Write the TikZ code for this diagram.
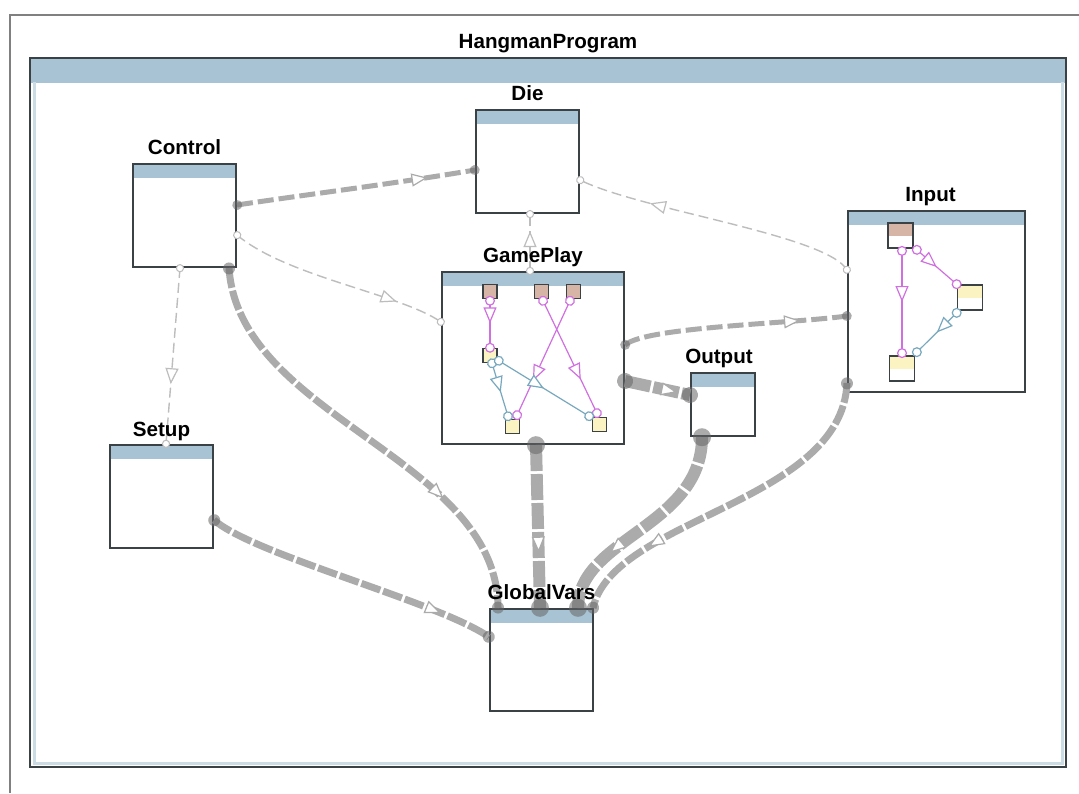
\documentclass[tikz,border=0pt]{standalone}
\usepackage{fontspec}
\setmainfont{Liberation Sans}
\usepackage{xcolor}
\usetikzlibrary{arrows.meta, decorations.markings}

\definecolor{hdrblue}{HTML}{A8C4D4}
\definecolor{boxline}{HTML}{3A4246}
\definecolor{wire}{HTML}{ABABAB}
\definecolor{thinwire}{HTML}{BDBDBD}
\definecolor{portbrown}{HTML}{D6B4A6}
\definecolor{portyellow}{HTML}{FBF3C2}
\definecolor{flowpink}{HTML}{D070E0}
\definecolor{flowblue}{HTML}{78A8BE}

\begin{document}
\begin{tikzpicture}[x=0.5pt, y=-0.5pt,
	comp/.style={draw=boxline, line width=1pt, fill=white, inner sep=0pt, minimum width=51.5pt, minimum height=51.5pt,
		path picture={\fill[hdrblue] (path picture bounding box.north west) rectangle ([yshift=-#1]path picture bounding box.north east);}},
	comp/.default=7pt,
	lbl/.style={anchor=base, inner sep=0pt, font=\bfseries\fontsize{10.3}{12}\selectfont},
	gport/.style={draw=boxline, line width=0.7pt, minimum size=7pt, inner sep=0pt},
	iport/.style={draw=boxline, line width=0.8pt, fill=white, minimum size=12.5pt, inner sep=0pt,
		path picture={\fill[#1] (path picture bounding box.north west) rectangle (path picture bounding box.east);}},
	endblob/.style={fill=black!60, fill opacity=0.55},
	thinw/.style={draw=thinwire, line width=0.7pt, dash pattern=on 5pt off 2.5pt},
	medw/.style={draw=wire, line width=2.5pt, dash pattern=on 8pt off 2.5pt},
	thickw/.style={draw=wire, line width=3.5pt, dash pattern=on 10pt off 1.5pt},
	heavyw/.style={draw=wire, line width=6pt, dash pattern=on 13pt off 1.5pt},
	ends/.style={postaction={decorate, decoration={markings,
		mark=at position 0.001 with {\fill[endblob] (0,0) circle (#1);},
		mark=at position 0.999 with {\fill[endblob] (0,0) circle (#1);}}}},
	thinends/.style={postaction={decorate, decoration={markings,
		mark=at position 0.001 with {\draw[thinwire, solid, line width=0.5pt, fill=white] (0,0) circle (1.8pt);},
		mark=at position 0.999 with {\draw[thinwire, solid, line width=0.5pt, fill=white] (0,0) circle (1.8pt);}}}},
	inflow/.style={draw=#1, line width=0.6pt, postaction={decorate, decoration={markings,
		mark=at position 0.001 with {\draw[#1, fill=white] (0,0) circle (2.2pt);},
		mark=at position 0.999 with {\draw[#1, fill=white] (0,0) circle (2.2pt);}}}},
	midtip/.style={postaction={decorate, decoration={markings,
		mark=at position #1 with {\arrow[line width=0.6pt, solid]{Triangle[length=8pt, width=6.5pt, fill=white]}}}}}]

	\useasboundingbox (0,0) rectangle (1079,793);
	\draw[gray, line width=1pt] (10,793) -- (10,15) -- (1079,15);

	% package and its parts
	\node[comp=12.5pt, minimum width=518pt, minimum height=354.5pt] (prog) at (548,412.5) {};
	\draw[hdrblue!60, line width=1.5pt] ([shift={(2.5pt,-12.5pt)}]prog.north west) |- ([shift={(-2.5pt,2.5pt)}]prog.south east) -- ([shift={(-2.5pt,-12.5pt)}]prog.north east);
	\node[comp]		(ctrl)	at (184.5,215.5)	{};
	\node[comp]		(die)	at (527.5,161.5)	{};
	\node[comp, minimum width=88.5pt, minimum height=90.5pt]	(inp)	at (936.5,301.5)	{};
	\node[comp, minimum width=91pt, minimum height=86pt]		(gp)	at (533,358)		{};
	\node[comp, minimum width=32pt, minimum height=31.5pt]		(outp)	at (723,404.5)		{};
	\node[comp]		(setup)	at (161.5,496.5)	{};
	\node[comp, minimum height=51pt]	(gv)	at (541.5,660)	{};

	% ports inside GamePlay and Input
	\node[gport, fill=portbrown]	(ga) at (490,291.5)		{};
	\node[gport, fill=portbrown]	(gb) at (541.5,291.5)	{};
	\node[gport, fill=portbrown]	(gc) at (573.5,291.5)	{};
	\node[gport, fill=portyellow]	(gd) at (490,355.5)		{};
	\node[gport, fill=portyellow]	(ge) at (512.5,426.5)	{};
	\node[gport, fill=portyellow]	(gf) at (599.5,424.5)	{};
	\node[iport=portbrown]	(ia) at (900.5,235.5)	{};
	\node[iport=portyellow]	(ib) at (970,297.5)		{};
	\node[iport=portyellow]	(ic) at (902,368.5)		{};

	\draw[inflow=flowpink, midtip=0.48] ([yshift=-0.75pt]ga.south) -- (gd.north);
	\draw[inflow=flowpink, midtip=0.7] ([shift={(0.75pt,-0.75pt)}]gb.south) -- ([shift={(-1.25pt,1.75pt)}]gf.north);
	\draw[inflow=flowpink, midtip=0.7] ([shift={(-1.75pt,-0.75pt)}]gc.south) -- ([shift={(2.25pt,1.75pt)}]ge.north);
	\draw[inflow=flowblue, midtip=0.55] ([xshift=1pt]gd.south) -- ([shift={(-2.25pt,1.25pt)}]ge.north);
	\draw[inflow=flowblue, midtip=0.5] ([shift={(0.5pt,1.25pt)}]gd.south east) -- ([shift={(-1.25pt,0.25pt)}]gf.north west);
	\draw[inflow=flowpink, midtip=0.5] ([shift={(0.75pt,-1pt)}]ia.south) -- ([yshift=1pt]ic.north);
	\draw[inflow=flowpink, midtip=0.5] ([shift={(1.5pt,-0.5pt)}]ia.south east) -- (ib.north west);
	\draw[inflow=flowblue, midtip=0.5] ([yshift=-1pt]ib.south west) -- ([shift={(0.75pt,1.5pt)}]ic.north east);

	% dependencies
	\draw[thinw, thinends, midtip=0.66] ([xshift=-2.25pt]ctrl.south) -- ([xshift=2.25pt]setup.north);
	\draw[thinw, thinends, midtip=0.7] ([xshift=-1.5pt]gp.north) -- ([xshift=1.25pt]die.south);
	\draw[thinw, thinends, midtip=0.78] ([yshift=-9.75pt]ctrl.east) .. controls +(50,42) and +(-40,-28) .. ([yshift=18pt]gp.west);
	\draw[thinw, thinends, midtip=0.74] ([yshift=15.75pt]inp.west) .. controls +(-20,-35) and +(60,30) .. ([yshift=-9.25pt]die.east);
	\draw[medw, ends=2.5pt, midtip=0.8] ([yshift=5.25pt]ctrl.east) .. controls +(80,-12) and +(-90,15) .. ([yshift=-4.25pt]die.west);
	\draw[medw, ends=2.5pt, midtip=0.79] ([yshift=6.5pt]gp.east) .. controls +(20,-18) and +(-60,8) .. ([yshift=-7.25pt]inp.west);
	\draw[heavyw, ends=4pt, midtip=0.8] ([yshift=-11.5pt]gp.east) -- ([yshift=4.75pt]outp.west);
	\draw[thickw, ends=3pt, midtip=0.72] ([xshift=22.25pt]ctrl.south) .. controls +(10,150) and +(0,-150) .. ([xshift=-21.75pt]gv.north);
	\draw[thickw, ends=3pt, midtip=0.82] ([yshift=-11.75pt]setup.east) .. controls +(40,35) and +(-50,-35) .. ([yshift=11.5pt]gv.west);
	\draw[heavyw, ends=4.5pt, midtip=0.66] ([xshift=1.5pt]gp.south) -- ([xshift=-0.75pt]gv.north);
	\draw[heavyw, ends=4.5pt, midtip=0.7] ([xshift=-10.5pt]outp.south) .. controls +(0,90) and +(0,-70) .. ([xshift=18.25pt]gv.north);
	\draw[thickw, ends=3pt, midtip=0.76] ([yshift=-40.75pt]inp.west) .. controls +(-5,120) and +(20,-90) .. ([xshift=25.75pt]gv.north);

	% names
	\node[lbl] (progname)	at ([yshift=4.5pt]prog.north)	{HangmanProgram};
	\node[lbl] (ctrlname)	at ([yshift=4.5pt]ctrl.north)	{Control};
	\node[lbl] (diename)	at ([yshift=4.5pt]die.north)	{Die};
	\node[lbl] (inpname)	at ([xshift=-3pt, yshift=4.5pt]inp.north)	{Input};
	\node[lbl] (gpname)		at ([yshift=4.5pt]gp.north)		{GamePlay};
	\node[lbl] (outpname)	at ([xshift=-2pt, yshift=4.5pt]outp.north)	{Output};
	\node[lbl] (setupname)	at ([yshift=4pt]setup.north)	{Setup};
	\node[lbl] (gvname)		at ([yshift=4.5pt]gv.north)		{GlobalVars};
\end{tikzpicture}
\end{document}
